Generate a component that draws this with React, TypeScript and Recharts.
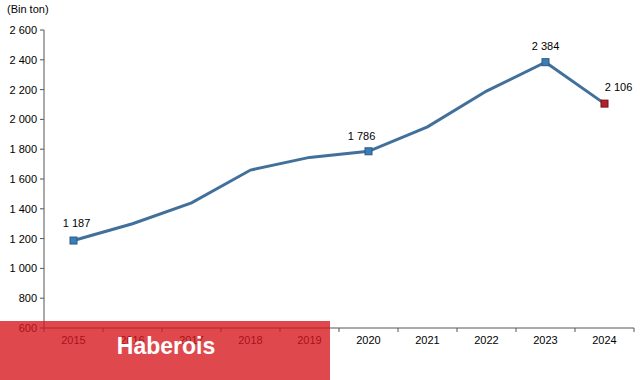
import React from "react";
import { LineChart, Line, XAxis, YAxis, LabelList } from "recharts";

const years = ["2015", "2016", "2017", "2018", "2019", "2020", "2021", "2022", "2023", "2024"];
const production = [1187, 1300, 1440, 1660, 1745, 1786, 1950, 2190, 2384, 2106];
const labeledYears = ["2015", "2020", "2023", "2024"];
const highlightedYear = "2024";
const yTicks = [600, 800, 1000, 1200, 1400, 1600, 1800, 2000, 2200, 2400, 2600];
const unitLabel = "(Bin ton)";
const watermark = "Haberois";

const data = years.map((y, i) => ({ year: y, value: production[i] }));

const fmt = (v: number) => String(Math.round(v)).replace(/\B(?=(\d{3})+(?!\d))/g, " ");

const FONT = "'Liberation Sans', Arial, sans-serif";
const LINE = "#41709B";

const Dot = (props: any) => {
  const { cx, cy, payload } = props;
  if (!labeledYears.includes(payload.year)) return null;
  const red = payload.year === highlightedYear;
  return (
    <rect
      x={cx - 3.5}
      y={cy - 3.5}
      width={7}
      height={7}
      fill={red ? "#B0222C" : "#3B7DB5"}
      stroke={red ? "#7A1418" : "#2A5A86"}
      strokeWidth={1}
    />
  );
};

const labelOffsets: Record<string, [number, number]> = {
  "2015": [3, -14],
  "2020": [-7, -11],
  "2023": [0, -12],
  "2024": [14, -13],
};

const ValueLabel = (props: any) => {
  const { x, y, value, index } = props;
  const yr = years[index];
  if (!labeledYears.includes(yr)) return null;
  const [dx, dy] = labelOffsets[yr];
  return (
    <text x={x + dx} y={y + dy} textAnchor="middle" fontSize={11} fontFamily={FONT} fill="#000">
      {fmt(value)}
    </text>
  );
};

const XTick = (props: any) => {
  const { x, y, payload, index, visibleTicksCount } = props;
  const half = 29.5;
  return (
    <g>
      <line x1={x - half} y1={y} x2={x - half} y2={y + 4} stroke="#555" />
      {index === visibleTicksCount - 1 && (
        <line x1={x + half} y1={y} x2={x + half} y2={y + 4} stroke="#555" />
      )}
      <text x={x} y={y + 16} textAnchor="middle" fontSize={11} fontFamily={FONT} fill="#000">
        {payload.value}
      </text>
    </g>
  );
};

export default function App() {
  return (
    <div style={{ position: "absolute", left: 0, top: 0, width: 641, height: 380, background: "#fff" }}>
      <LineChart width={641} height={380} data={data} margin={{ top: 30, right: 7, bottom: 22, left: 0 }}>
        <XAxis
          dataKey="year"
          scale="band"
          axisLine={{ stroke: "#555" }}
          tickLine={false}
          tickSize={0}
          tickMargin={0}
          tick={<XTick />}
          height={30}
          interval={0}
        />
        <YAxis
          domain={[600, 2600]}
          ticks={yTicks}
          width={44}
          tickSize={4}
          tickMargin={3}
          axisLine={{ stroke: "#555" }}
          tickLine={{ stroke: "#555" }}
          tick={{ fontSize: 11, fontFamily: FONT, fill: "#000" }}
          tickFormatter={fmt}
          interval={0}
        />
        <Line
          type="linear"
          dataKey="value"
          stroke={LINE}
          strokeWidth={3}
          dot={<Dot />}
          activeDot={false}
          isAnimationActive={false}
        >
          <LabelList dataKey="value" content={<ValueLabel />} />
        </Line>
      </LineChart>
      <div
        style={{
          position: "absolute",
          left: 7,
          top: 3,
          fontSize: 11,
          fontFamily: FONT,
          color: "#000",
        }}
      >
        {unitLabel}
      </div>
      <div
        style={{
          position: "absolute",
          left: 0,
          top: 321,
          width: 330,
          height: 59,
          background: "rgba(214, 22, 28, 0.78)",
          display: "flex",
          alignItems: "center",
          justifyContent: "center",
        }}
      >
        <span
          style={{
            color: "#fff",
            fontFamily: "'Liberation Sans', Arial, sans-serif",
            fontWeight: 700,
            fontSize: 23,
            marginTop: -8,
            marginLeft: 2,
          }}
        >
          {watermark}
        </span>
      </div>
    </div>
  );
}
